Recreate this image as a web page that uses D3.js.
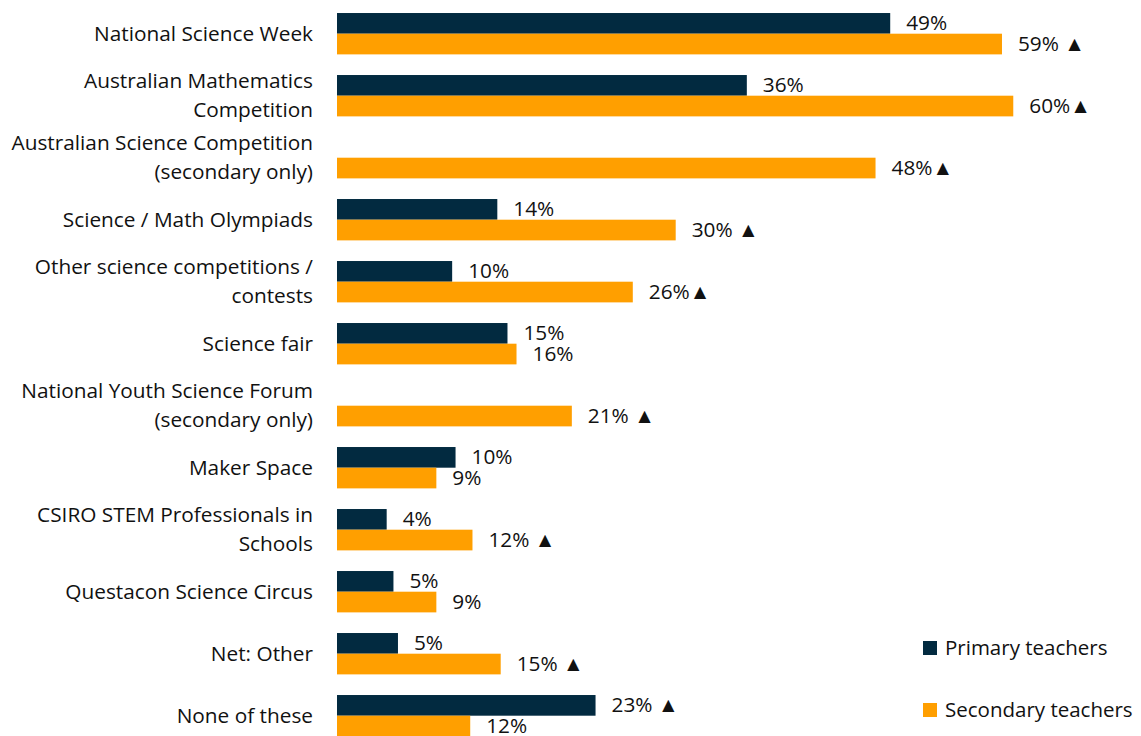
<!DOCTYPE html>
<html>
<head>
<meta charset="utf-8">
<script src="https://cdn.jsdelivr.net/npm/d3@7"></script>
<style>
  body { margin: 0; background: #fff; }
  text { font-family: "Open Sans", Lato, sans-serif; fill: #111; }
</style>
</head>
<body>
<div id="chart"></div>
<script>
var categories = [
  ['National Science Week'],
  ['Australian Mathematics', 'Competition'],
  ['Australian Science Competition', '(secondary only)'],
  ['Science / Math Olympiads'],
  ['Other science competitions /', 'contests'],
  ['Science fair'],
  ['National Youth Science Forum', '(secondary only)'],
  ['Maker Space'],
  ['CSIRO STEM Professionals in', 'Schools'],
  ['Questacon Science Circus'],
  ['Net: Other'],
  ['None of these']
]
var primary = [49, 36.3, null, 14.2, 10.2, 15.1, null, 10.5, 4.4, 5.0, 5.4, 22.9]
var secondary = [58.9, 59.9, 47.7, 30.0, 26.2, 15.9, 20.8, 8.8, 12.0, 8.8, 14.5, 11.8]
var primaryLabels = ['49%', '36%', '', '14%', '10%', '15%', '', '10%', '4%', '5%', '5%', '23% \u25B2']
var secondaryLabels = ['59% \u25B2', '60%\u25B2', '48%\u25B2', '30% \u25B2', '26%\u25B2', '16%', '21% \u25B2', '9%', '12% \u25B2', '9%', '15% \u25B2', '12%']
var seriesNames = ['Primary teachers', 'Secondary teachers']
var colors = ['#022a40', '#ff9f00']

var width = 1141
var height = 736

var svg = d3.select('#chart').append('svg')
  .attr('width', width)
  .attr('height', height)

var keys = categories.map(function (c, i) { return i })

var x = d3.scaleLinear().domain([0, 60]).range([337, 337 + 60 * 11.29])
var y = d3.scaleBand().domain(keys).range([2.7, 746.7]).paddingInner(0.333).paddingOuter(0.1665)
var sub = d3.scaleBand().domain([0, 1]).range([0, y.bandwidth()])

// category labels
var labels = svg.append('g').selectAll('text')
  .data(categories)
  .enter().append('text')
  .attr('text-anchor', 'end')
  .attr('font-size', 20.8)
  .attr('x', 313)
  .attr('y', function (d, i) { return y(i) + y.bandwidth() / 2 })

labels.each(function (d) {
  var t = d3.select(this)
  var lh = 29
  var start = -(d.length - 1) * lh / 2
  d.forEach(function (line, j) {
    t.append('tspan')
      .attr('x', 313)
      .attr('dy', j === 0 ? start + 7 : lh)
      .text(line)
  })
})

var series = [primary, secondary]
var seriesLabels = [primaryLabels, secondaryLabels]

series.forEach(function (vals, s) {
  var g = svg.append('g')
  var rows = vals.map(function (v, i) { return { i: i, v: v, label: seriesLabels[s][i] } })
    .filter(function (d) { return d.v !== null })

  g.selectAll('rect')
    .data(rows)
    .enter().append('rect')
    .attr('x', x(0))
    .attr('y', function (d) { return y(d.i) + sub(s) })
    .attr('width', function (d) { return x(d.v) - x(0) })
    .attr('height', sub.bandwidth())
    .attr('fill', colors[s])

  g.selectAll('text')
    .data(rows)
    .enter().append('text')
    .attr('font-size', 20.8)
    .attr('x', function (d) { return x(d.v) + 16 })
    .attr('y', function (d) { return y(d.i) + sub(s) + sub.bandwidth() / 2 + 7 })
    .text(function (d) { return d.label })
})

// legend
var legend = svg.append('g').selectAll('g')
  .data(seriesNames)
  .enter().append('g')
  .attr('transform', function (d, i) { return 'translate(923,' + (641 + i * 62) + ')' })

legend.append('rect')
  .attr('width', 14)
  .attr('height', 14)
  .attr('fill', function (d, i) { return colors[i] })

legend.append('text')
  .attr('x', 22)
  .attr('y', 14)
  .attr('font-size', 20.5)
  .text(function (d) { return d })
</script>
</body>
</html>
